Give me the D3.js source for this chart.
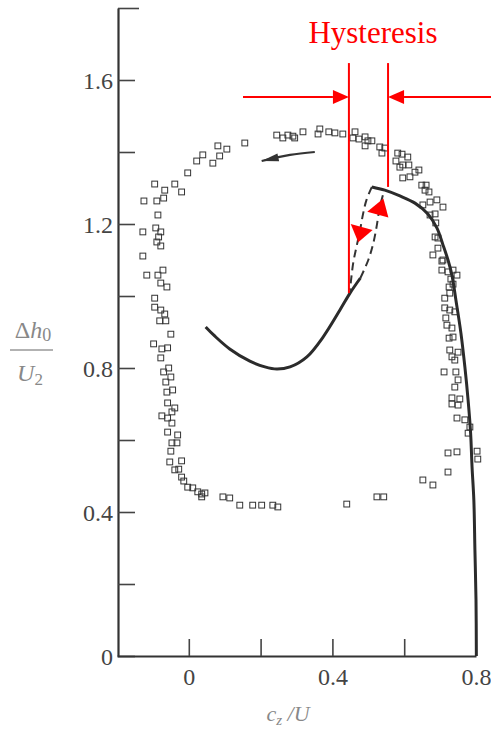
<!DOCTYPE html>
<html>
<head>
<meta charset="utf-8">
<script src="https://cdn.jsdelivr.net/npm/d3@7.9.0/dist/d3.min.js"></script>
<style>
  body { margin: 0; background: #fff; }
  svg { display: block; font-family: "Liberation Serif", "DejaVu Serif", serif; }
</style>
</head>
<body>
<svg id="chart" width="491" height="740"></svg>
<script>
// === Data (c_z/U , Δh0/U2) ===
const measured = [
  [0.156,1.425],[0.081,1.417],[0.106,1.408],[0.086,1.389],[0.067,1.369],[0.039,1.392],[0.022,1.375],
  [-0.003,1.342],[-0.095,1.311],[-0.039,1.311],[-0.067,1.294],[-0.020,1.289],[-0.125,1.264],[-0.089,1.264],
  [-0.070,1.272],[-0.086,1.225],[-0.128,1.178],[-0.092,1.189],[-0.078,1.178],[-0.084,1.164],[-0.089,1.150],
  [-0.078,1.139],[-0.128,1.111],[-0.117,1.058],[-0.086,1.058],[-0.072,1.072],[-0.078,1.036],[-0.061,1.025],
  [-0.095,0.994],[-0.095,0.969],[-0.078,0.961],[-0.067,0.950],[-0.081,0.931],[-0.064,0.931],[-0.050,0.894],
  [-0.098,0.867],[-0.075,0.853],[-0.059,0.856],[-0.078,0.828],[-0.070,0.789],[-0.056,0.800],[-0.050,0.775],
  [-0.064,0.761],[-0.061,0.733],[-0.045,0.739],[-0.059,0.703],[-0.039,0.689],[-0.047,0.678],[-0.075,0.667],
  [-0.059,0.661],[-0.047,0.647],[-0.059,0.622],[-0.031,0.614],[-0.047,0.592],[-0.033,0.592],[-0.050,0.569],
  [-0.053,0.539],[-0.020,0.542],[-0.039,0.517],[-0.028,0.519],[-0.020,0.497],[-0.014,0.486],[-0.003,0.469],
  [0.011,0.467],[0.025,0.456],[0.036,0.450],[0.036,0.442],[0.045,0.453],[0.095,0.442],[0.114,0.439],
  [0.142,0.419],[0.178,0.419],[0.203,0.419],[0.234,0.419],[0.248,0.414],[0.440,0.422],[0.524,0.442],
  [0.543,0.442],[0.652,0.489],[0.680,0.475],[0.722,0.511],[0.722,0.564],[0.747,0.567],[0.803,0.569],
  [0.805,0.547],[0.747,0.661],[0.769,0.656],[0.783,0.636],[0.778,0.619],[0.733,0.717],[0.755,0.714],
  [0.733,0.700],[0.750,0.697],[0.750,0.767],[0.741,0.747],[0.711,0.789],[0.744,0.789],[0.727,0.850],
  [0.750,0.844],[0.733,0.831],[0.741,0.822],[0.725,0.883],[0.736,0.886],[0.716,0.939],[0.719,0.919],
  [0.733,0.911],[0.713,0.967],[0.727,0.961],[0.741,0.956],[0.713,0.994],[0.727,1.008],[0.725,1.025],
  [0.736,1.033],[0.730,1.047],[0.705,1.072],[0.722,1.067],[0.736,1.072],[0.747,1.058],[0.705,1.097],
  [0.680,1.114],[0.708,1.100],[0.694,1.133],[0.686,1.164],[0.694,1.161],[0.688,1.203],[0.672,1.225],
  [0.686,1.228],[0.691,1.267],[0.708,1.247],[0.672,1.261],[0.652,1.253],[0.649,1.308],[0.661,1.308],
  [0.658,1.294],[0.669,1.289],[0.596,1.328],[0.616,1.331],[0.630,1.344],[0.641,1.350],[0.596,1.364],
  [0.613,1.364],[0.588,1.358],[0.577,1.375],[0.594,1.394],[0.610,1.386],[0.582,1.397],[0.532,1.414],
  [0.546,1.411],[0.538,1.397],[0.491,1.442],[0.491,1.417],[0.499,1.431],[0.510,1.431],[0.474,1.436],
  [0.463,1.456],[0.457,1.439],[0.429,1.450],[0.407,1.453],[0.390,1.456],[0.365,1.464],[0.360,1.450],
  [0.318,1.456],[0.290,1.444],[0.295,1.439],[0.276,1.447],[0.262,1.439],[0.245,1.447]
];

// stable (unstalled) characteristic
const upperBranch = [
  [0.510,1.303],[0.546,1.294],[0.588,1.278],[0.630,1.258],[0.666,1.228],[0.691,1.189],[0.708,1.142],
  [0.722,1.100],[0.733,1.058],[0.744,0.989],[0.758,0.897],[0.769,0.803],[0.778,0.711],[0.785,0.619],
  [0.789,0.525],[0.794,0.433],[0.797,0.294],[0.800,0.156],[0.801,0.000]
];
// stalled characteristic
const lowerBranch = [
  [0.047,0.914],[0.072,0.889],[0.114,0.853],[0.170,0.819],[0.212,0.803],[0.245,0.797],[0.282,0.803],
  [0.329,0.831],[0.374,0.886],[0.421,0.961],[0.449,1.008],[0.478,1.050]
];
// dashed transitions
const stallDrop = [[0.510,1.303],[0.495,1.267],[0.486,1.231],[0.477,1.183],[0.467,1.136],[0.458,1.092],[0.449,1.017]];
const recovery = [[0.478,1.050],[0.500,1.100],[0.514,1.147],[0.523,1.192],[0.532,1.247],[0.544,1.292]];
// orbit direction arrow
const orbitArrow = [[0.351,1.400],[0.282,1.392],[0.203,1.375]];

const xTicks = [0, 0.2, 0.4, 0.6, 0.8];
const xLabels = [0, 0.4, 0.8];
const yTicks = [0, 0.2, 0.4, 0.6, 0.8, 1.0, 1.2, 1.4, 1.6, 1.8];
const yLabels = [0, 0.4, 0.8, 1.2, 1.6];

// red hysteresis annotation
const hystLeft = 0.446, hystRight = 0.555;
const hystTop = 1.647, hystLeftEnd = 1.008, hystRightEnd = 1.303;
const hystArrowY = 1.553, hystArrowFrom = [0.151, 0.842];
const dropHead = [[0.451,1.200],[0.512,1.183],[0.472,1.149]];
const riseHead = [[0.497,1.234],[0.556,1.218],[0.542,1.271]];

const svg = d3.select('#chart');
const x = d3.scaleLinear().domain([-0.2, 0.8]).range([117, 476]);
const y = d3.scaleLinear().domain([0, 1.8]).range([656, 8]);
const fmt = d => d === 0 ? '0' : d.toFixed(1);

// === Axes ===
const yAxis = d3.axisLeft(y).tickValues(yTicks).tickSizeInner(-17).tickSizeOuter(0).tickPadding(5)
  .tickFormat(d => yLabels.some(v => Math.abs(v - d) < 1e-9) ? fmt(d) : '');
const gy = svg.append('g').attr('transform', `translate(${x(-0.2) + 1},0)`).call(yAxis);

const xAxis = d3.axisBottom(x).tickValues(xTicks).tickSizeInner(-17).tickSizeOuter(0).tickPadding(12)
  .tickFormat(d => xLabels.some(v => Math.abs(v - d) < 1e-9) ? fmt(d) : '');
const gx = svg.append('g').attr('transform', `translate(0,${y(0)})`).call(xAxis);

[gx, gy].forEach(g => {
  g.select('.domain').attr('stroke', '#333').attr('stroke-width', 2.2);
  g.selectAll('.tick line').attr('stroke', '#444').attr('stroke-width', 1.6);
  g.selectAll('.tick text').attr('fill', '#444').style('font-size', '24px')
    .style('font-family', '"Liberation Serif", serif');
});
gy.selectAll('.tick text').attr('dy', '0.36em');
gy.selectAll('.tick').filter(d => d === 1.8).select('line').attr('x2', 21);
gx.selectAll('.tick').filter(d => d === 0.8).select('line').remove();

// axis titles
const yt = svg.append('g').attr('fill', '#888').style('font-size', '24px');
yt.append('text').attr('x', 33).attr('y', 338).attr('text-anchor', 'middle')
  .html('<tspan>Δ</tspan><tspan font-style="italic">h</tspan><tspan font-size="18" dy="3">0</tspan>');
yt.append('line').attr('x1', 10).attr('x2', 53).attr('y1', 350).attr('y2', 350)
  .attr('stroke', '#999').attr('stroke-width', 1.3);
yt.append('text').attr('x', 30).attr('y', 381).attr('text-anchor', 'middle')
  .html('<tspan font-style="italic">U</tspan><tspan font-size="17" dy="4">2</tspan>');

svg.append('text').attr('x', 288).attr('y', 721).attr('text-anchor', 'middle')
  .attr('fill', '#888').style('font-size', '22px').style('font-style', 'italic')
  .html('c<tspan font-size="15" dy="4">z</tspan><tspan dy="-4"> /U</tspan>');

// === Measured points ===
svg.append('g').selectAll('rect').data(measured).join('rect')
  .attr('x', d => x(d[0]) - 2.9).attr('y', d => y(d[1]) - 2.9)
  .attr('width', 5.8).attr('height', 5.8)
  .attr('fill', 'none').attr('stroke', '#333').attr('stroke-width', 1);

// === Characteristic curves ===
const line = d3.line().x(d => x(d[0])).y(d => y(d[1])).curve(d3.curveCatmullRom);
svg.append('path').attr('d', line(upperBranch)).attr('fill', 'none')
  .attr('stroke', '#2b2b2b').attr('stroke-width', 3);
svg.append('path').attr('d', line(lowerBranch)).attr('fill', 'none')
  .attr('stroke', '#2b2b2b').attr('stroke-width', 3);
[stallDrop, recovery].forEach(seg => {
  svg.append('path').attr('d', line(seg)).attr('fill', 'none')
    .attr('stroke', '#333').attr('stroke-width', 2).attr('stroke-dasharray', '8,5');
});

// orbit arrow
svg.append('path').attr('d', line(orbitArrow)).attr('fill', 'none')
  .attr('stroke', '#333').attr('stroke-width', 2.2);
{
  const [p0, p1] = orbitArrow.slice(-2).map(d => [x(d[0]), y(d[1])]);
  const ang = Math.atan2(p1[1] - p0[1], p1[0] - p0[0]);
  const L = 17, W = 4;
  const bx = p1[0] - L * Math.cos(ang), by = p1[1] - L * Math.sin(ang);
  svg.append('polygon').attr('fill', '#333').attr('points', [
    p1, [bx - W * Math.sin(ang), by + W * Math.cos(ang)], [bx + W * Math.sin(ang), by - W * Math.cos(ang)]
  ].map(p => p.join(',')).join(' '));
}

// === Red hysteresis annotation ===
const red = '#ff0000';
const ann = svg.append('g');
ann.append('line').attr('x1', x(hystLeft)).attr('x2', x(hystLeft))
  .attr('y1', y(hystTop)).attr('y2', y(hystLeftEnd)).attr('stroke', red).attr('stroke-width', 2);
ann.append('line').attr('x1', x(hystRight)).attr('x2', x(hystRight))
  .attr('y1', y(hystTop)).attr('y2', y(hystRightEnd)).attr('stroke', red).attr('stroke-width', 2);

function redArrow(fromX, toX) {
  const dir = Math.sign(toX - fromX);
  const tip = x(toX), yy = y(hystArrowY), base = tip - dir * 16;
  ann.append('line').attr('x1', x(fromX)).attr('x2', base).attr('y1', yy).attr('y2', yy)
    .attr('stroke', red).attr('stroke-width', 2);
  ann.append('polygon').attr('fill', red)
    .attr('points', `${tip},${yy} ${base},${yy - 7} ${base},${yy + 7}`);
}
redArrow(hystArrowFrom[0], hystLeft);
redArrow(hystArrowFrom[1], hystRight);

[dropHead, riseHead].forEach(tri => {
  ann.append('polygon').attr('fill', red)
    .attr('points', tri.map(d => `${x(d[0])},${y(d[1])}`).join(' '));
});

ann.append('text').attr('x', x(0.513)).attr('y', y(1.703)).attr('text-anchor', 'middle')
  .attr('fill', red).style('font-size', '31px').text('Hysteresis');
</script>
</body>
</html>
